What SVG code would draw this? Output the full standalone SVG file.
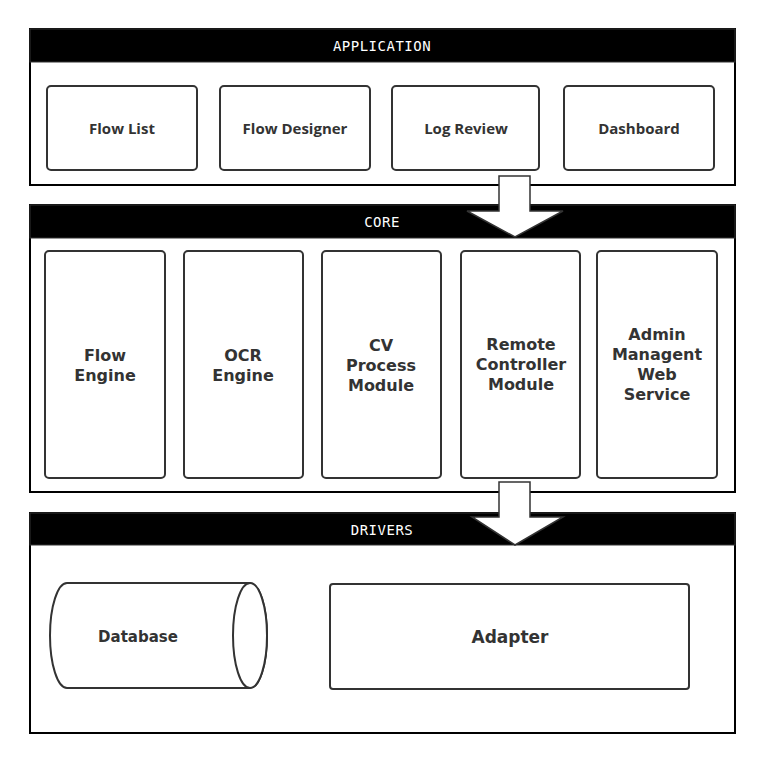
<svg xmlns="http://www.w3.org/2000/svg" width="765" height="761" viewBox="0 0 765 761">
<style>
.frame{fill:#fff;stroke:#000;stroke-width:2}
.hdr{fill:#000;stroke:#333;stroke-width:1}
.ht{fill:#fff;font-family:"DejaVu Sans Mono",monospace;font-size:14px;text-anchor:middle;letter-spacing:0.5px}
.box{fill:#fff;stroke:#333;stroke-width:2}
.t1{fill:#333;font-family:"Open Sans",sans-serif;font-weight:bold;font-size:15px;text-anchor:middle}
.t2{fill:#333;font-family:"DejaVu Sans",sans-serif;font-weight:bold;font-size:16px;text-anchor:middle}
.arr{fill:#fff;stroke:#333;stroke-width:1.5}
</style>
<rect width="765" height="761" fill="#fff"/>
<g id="application">
<rect class="frame" x="30" y="29" width="705" height="156"/>
<rect class="hdr" x="30" y="29" width="705" height="33"/>
<text class="ht" x="382" y="51">APPLICATION</text>
</g>
<g id="flow-list"><rect class="box" x="47" y="86" width="150" height="84" rx="4"/><text class="t1" x="122" y="134">Flow List</text></g>
<g id="flow-designer"><rect class="box" x="220" y="86" width="150" height="84" rx="4"/><text class="t1" x="295" y="134">Flow Designer</text></g>
<g id="log-review"><rect class="box" x="392" y="86" width="147" height="84" rx="4"/><text class="t1" x="466" y="134">Log Review</text></g>
<g id="dashboard"><rect class="box" x="564" y="86" width="150" height="84" rx="4"/><text class="t1" x="639" y="134">Dashboard</text></g>
<g id="core">
<rect class="frame" x="30" y="205" width="705" height="287"/>
<rect class="hdr" x="30" y="205" width="705" height="33"/>
<text class="ht" x="382" y="227">CORE</text>
</g>
<g id="flow-engine"><rect class="box" x="45" y="251" width="120" height="227" rx="4"/><text class="t2" x="105" y="361">Flow</text><text class="t2" x="105" y="381">Engine</text></g>
<g id="ocr-engine"><rect class="box" x="184" y="251" width="119" height="227" rx="4"/><text class="t2" x="243" y="361">OCR</text><text class="t2" x="243" y="381">Engine</text></g>
<g id="cv-process"><rect class="box" x="322" y="251" width="119" height="227" rx="4"/><text class="t2" x="381" y="351">CV</text><text class="t2" x="381" y="371">Process</text><text class="t2" x="381" y="391">Module</text></g>
<g id="remote-controller"><rect class="box" x="461" y="251" width="119" height="227" rx="4"/><text class="t2" x="521" y="350">Remote</text><text class="t2" x="521" y="370">Controller</text><text class="t2" x="521" y="390">Module</text></g>
<g id="admin"><rect class="box" x="597" y="251" width="120" height="227" rx="4"/><text class="t2" x="657" y="340">Admin</text><text class="t2" x="657" y="360">Managent</text><text class="t2" x="657" y="380">Web</text><text class="t2" x="657" y="400">Service</text></g>
<g id="drivers">
<rect class="frame" x="30" y="513" width="705" height="220"/>
<rect class="hdr" x="30" y="513" width="705" height="32"/>
<text class="ht" x="382" y="535">DRIVERS</text>
</g>
<g id="database">
<path class="box" d="M67,583 L250,583 A17,52.5 0 0 1 250,688 L67,688 A17,52.5 0 0 1 67,583 Z"/>
<ellipse class="box" cx="250" cy="635.5" rx="17" ry="52.5"/>
<text class="t2" x="138" y="642" style="font-size:15px">Database</text>
</g>
<g id="adapter"><rect class="box" x="330" y="584" width="359" height="105" rx="3"/><text class="t2" x="510" y="643" style="font-size:17px">Adapter</text></g>
<g id="connectors">
<path class="arr" d="M499,176 L530,176 L530,211 L563,211 L515,237 L467,211 L499,211 Z"/>
<path class="arr" d="M499,482 L530,482 L530,517 L563,517 L515,545 L472,517 L499,517 Z"/>
</g>
</svg>
